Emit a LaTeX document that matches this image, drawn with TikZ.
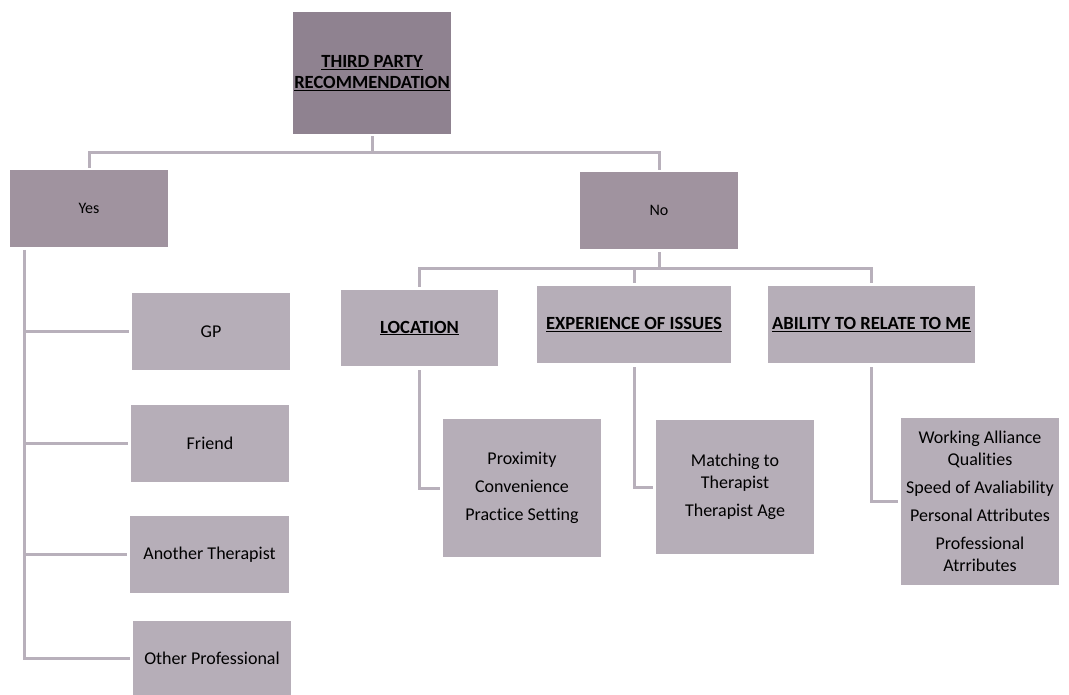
\documentclass[tikz,border=0pt]{standalone}
\usepackage{fontspec}
\setmainfont[Ligatures={NoCommon}]{Carlito}
\definecolor{topc}{HTML}{8F8290}
\definecolor{midc}{HTML}{A0939F}
\definecolor{lowc}{HTML}{B6AEB8}
\definecolor{linec}{HTML}{B8B0BB}
\begin{document}
\begin{tikzpicture}[x=1pt,y=-1pt,
  boxbase/.style={rectangle, draw=none, inner sep=0pt, align=center, text=black,
    font=\fontsize{18}{22}\selectfont},
  topbox/.style={boxbase, fill=topc},
  midbox/.style={boxbase, fill=midc, font=\fontsize{16}{19}\selectfont},
  lowbox/.style={boxbase, fill=lowc},
  conn/.style={draw=linec, line width=3pt},
  head/.style={font=\fontsize{18.6}{22}\selectfont\bfseries}]
\useasboundingbox (0,0) rectangle (1069,695);

% boxes
\node[topbox, head, minimum width=158pt, minimum height=122pt] (top) at (372,73)
  {\underline{THIRD PARTY}\\[-1pt]\underline{RECOMMENDATION}};
\node[midbox, minimum width=158pt, minimum height=77pt] (yes) at (89,208.5) {Yes};
\node[midbox, minimum width=158pt, minimum height=77pt] (no) at (659,210.5) {No};

\node[lowbox, head, minimum width=157pt, minimum height=76pt] (loc) at (419.5,328) {\underline{LOCATION}};
\node[lowbox, head, minimum width=194pt, minimum height=77pt] (exp) at (634,324.5) {\underline{EXPERIENCE OF ISSUES}};
\node[lowbox, head, minimum width=207pt, minimum height=77pt] (abl) at (871.5,324.5) {\underline{ABILITY TO RELATE TO ME}};

\node[lowbox, minimum width=158pt, minimum height=77pt] (gp) at (211,331.5) {GP};
\node[lowbox, minimum width=158pt, minimum height=77pt] (fr) at (210,443.5) {Friend};
\node[lowbox, minimum width=159pt, minimum height=77pt] (at) at (209.5,554.5) {Another Therapist};
\node[lowbox, minimum width=158pt, minimum height=74pt] (op) at (212,658) {Other Professional};

\node[lowbox, minimum width=158pt, minimum height=138pt] (prox) at (522,488)
  {Proximity\\[6pt]Convenience\\[6pt]Practice Setting};
\node[lowbox, minimum width=158pt, minimum height=134pt] (mat) at (735,487)
  {Matching to\\Therapist\\[6pt]Therapist Age};
\node[lowbox, minimum width=158pt, minimum height=167pt] (wa) at (980,501.5)
  {Working Alliance\\Qualities\\[6pt]Speed of Avaliability\\[6pt]Personal Attributes\\[6pt]Professional\\Atrributes};

% connectors: top level
\coordinate (tj) at (372,153);
\draw[conn] ([yshift=-2pt]top.south) -- (tj);
\draw[conn] (tj) -| ([yshift=2pt]yes.north);
\draw[conn] (tj) -| ([yshift=2pt]no.north);

% Yes branch
\coordinate (ys) at (24,250);
\draw[conn] (ys) |- ([xshift=-3pt]op.west);
\draw[conn] (ys |- gp.west) -- ([xshift=-3pt]gp.west);
\draw[conn] (ys |- fr.west) -- ([xshift=-3pt]fr.west);
\draw[conn] (ys |- at.west) -- ([xshift=-3pt]at.west);

% No branch
\coordinate (nj) at (659,269);
\draw[conn] ([yshift=-3pt]no.south) -- (nj);
\draw[conn] ([yshift=3pt]loc.north) |- (nj) -| ([yshift=3pt]abl.north);
\draw[conn] ([yshift=3pt]exp.north) -- (exp.north |- nj);

% children of categories
\draw[conn] ([yshift=-4pt]loc.south) |- ([xshift=-3pt]prox.west);
\draw[conn] ([yshift=-4pt]exp.south) |- ([xshift=-3pt]mat.west);
\draw[conn] ([yshift=-4pt]abl.south) |- ([xshift=-3pt]wa.west);
\end{tikzpicture}
\end{document}
